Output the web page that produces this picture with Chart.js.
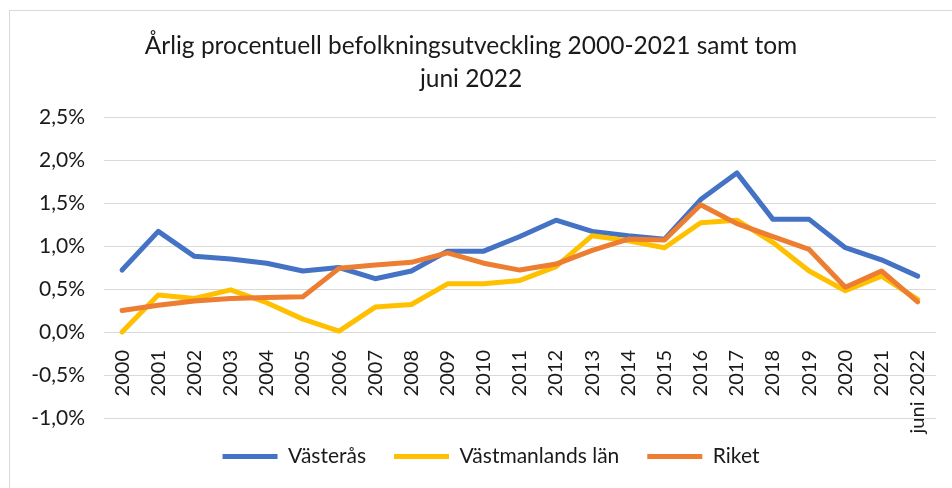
<!DOCTYPE html>
<html>
<head>
<meta charset="utf-8">
<script src="https://cdn.jsdelivr.net/npm/chart.js@4"></script>
<style>
  body { margin: 0; background: #fff; overflow: hidden; }
  #wrap { position: relative; width: 952px; height: 488px; overflow: hidden; }
  #frame { position: absolute; left: 9px; top: 10px; width: 960px; height: 500px; border: 1px solid #d9d9d9; }
  canvas { position: absolute; left: 0; top: 0; }
</style>
</head>
<body>
<div id="wrap">
  <div id="frame"></div>
  <canvas id="chart" width="952" height="488"></canvas>
</div>
<script>
const years = ['2000', '2001', '2002', '2003', '2004', '2005', '2006', '2007', '2008', '2009', '2010',
  '2011', '2012', '2013', '2014', '2015', '2016', '2017', '2018', '2019', '2020', '2021', 'juni 2022'];

// procent per år
const vasteras = [0.72, 1.17, 0.88, 0.85, 0.80, 0.71, 0.75, 0.62, 0.71, 0.94, 0.94,
  1.11, 1.30, 1.17, 1.12, 1.08, 1.54, 1.85, 1.31, 1.31, 0.98, 0.84, 0.65];
const vastmanland = [0.00, 0.43, 0.39, 0.49, 0.34, 0.15, 0.01, 0.29, 0.32, 0.56, 0.56,
  0.60, 0.76, 1.12, 1.06, 0.98, 1.27, 1.30, 1.04, 0.71, 0.48, 0.65, 0.38];
const riket = [0.25, 0.31, 0.36, 0.39, 0.40, 0.41, 0.74, 0.78, 0.81, 0.92, 0.80,
  0.72, 0.79, 0.95, 1.08, 1.07, 1.48, 1.26, 1.11, 0.96, 0.52, 0.71, 0.35];

const textColor = '#1a1a1a';
const fontFamily = 'Lato, "Noto Sans", sans-serif';

function serie(label, data, color, order) {
  return {
    label: label,
    data: data,
    borderColor: color,
    backgroundColor: color,
    borderWidth: 5,
    pointRadius: 0,
    tension: 0,
    borderCapStyle: 'round',
    borderJoinStyle: 'round',
    order: order
  };
}

// flytta legenden lite åt höger, som i Excel-diagrammet
const legendShift = {
  id: 'legendShift',
  afterLayout(chart) {
    chart.legend.left += 20;
    chart.legend.right += 20;
  }
};

new Chart(document.getElementById('chart').getContext('2d'), {
  type: 'line',
  data: {
    labels: years,
    datasets: [
      serie('Västerås', vasteras, '#4472C4', 2),
      serie('Västmanlands län', vastmanland, '#FFC000', 1),
      serie('Riket', riket, '#ED7D31', 0)
    ]
  },
  plugins: [legendShift],
  options: {
    responsive: false,
    devicePixelRatio: 1,
    animation: false,
    layout: { padding: { left: 6, right: 16, top: 0, bottom: 11 } },
    plugins: {
      tooltip: { enabled: false },
      title: {
        display: true,
        text: ['Årlig procentuell befolkningsutveckling 2000-2021 samt tom', 'juni 2022'],
        color: textColor,
        font: { family: fontFamily, size: 24.5, weight: 'normal', lineHeight: 1.347 },
        padding: { top: 30, bottom: 21 }
      },
      legend: {
        position: 'bottom',
        labels: {
          color: textColor,
          font: { family: fontFamily, size: 21 },
          boxWidth: 55,
          boxHeight: 5,
          padding: 28,
          generateLabels(chart) {
            const items = Chart.defaults.plugins.legend.labels.generateLabels(chart);
            items.forEach(it => { it.fillStyle = it.strokeStyle; it.lineWidth = 0; });
            return items.sort((a, b) => a.datasetIndex - b.datasetIndex);
          }
        }
      }
    },
    scales: {
      x: {
        position: { y: 0 },
        offset: true,
        grid: { display: false },
        border: { display: false },
        ticks: {
          color: textColor,
          font: { family: fontFamily, size: 20 },
          minRotation: 90,
          maxRotation: 90,
          autoSkip: false,
          padding: 10
        },
        afterFit(scale) { scale.height = 0; }
      },
      y: {
        min: -1,
        max: 2.5,
        grid: { color: '#d9d9d9', lineWidth: 1, drawTicks: false },
        border: { display: false },
        ticks: {
          stepSize: 0.5,
          color: textColor,
          font: { family: fontFamily, size: 21 },
          padding: 19,
          callback: v => v.toFixed(1).replace('.', ',') + '%'
        },
        afterFit(scale) { scale.width = 98; }
      }
    }
  }
});
</script>
</body>
</html>
